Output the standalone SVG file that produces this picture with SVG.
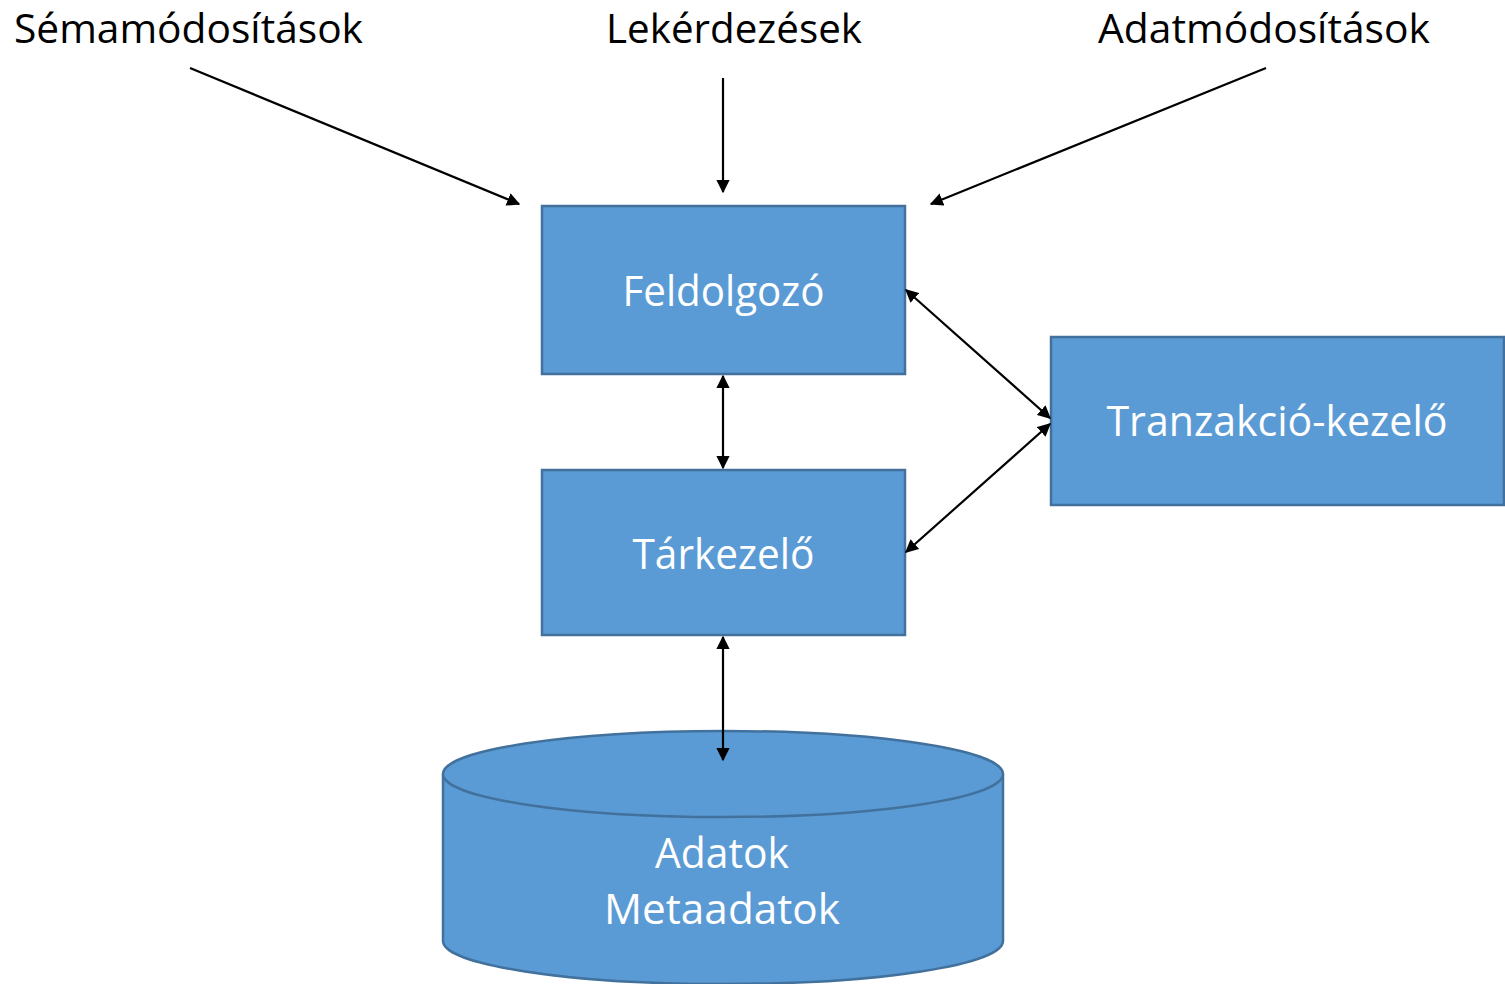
<svg xmlns="http://www.w3.org/2000/svg" width="1505" height="984" viewBox="0 0 1505 984">
<style>
.box{fill:#5B9BD5;stroke:#41719C;stroke-width:2.5}
.lbl{font-family:"Open Sans","Liberation Sans",sans-serif;font-size:41px;fill:#000}
.wl{font-family:"Open Sans","Liberation Sans",sans-serif;font-size:42px;fill:#fff;text-anchor:middle}
.c{stroke:#000;stroke-width:2.2;fill:none}
</style>
<defs>
<marker id="ah" viewBox="0 0 10 10" refX="9" refY="5" markerWidth="6" markerHeight="6" orient="auto-start-reverse" markerUnits="strokeWidth">
<path d="M0,0 L10,5 L0,10 z" fill="#000"/>
</marker>
</defs>
<rect width="1505" height="984" fill="#fff"/>
<g id="labels">
<text class="lbl" x="14" y="43" textLength="349" lengthAdjust="spacingAndGlyphs">Sémamódosítások</text>
<text class="lbl" x="606" y="43" textLength="256" lengthAdjust="spacingAndGlyphs">Lekérdezések</text>
<text class="lbl" x="1098" y="43" textLength="332" lengthAdjust="spacingAndGlyphs">Adatmódosítások</text>
</g>
<g id="feldolgozo">
<rect class="box" x="542" y="206" width="363" height="168"/>
<text class="wl" x="723.5" y="306" textLength="202" lengthAdjust="spacingAndGlyphs">Feldolgozó</text>
</g>
<g id="tarkezelo">
<rect class="box" x="542" y="470" width="363" height="165"/>
<text class="wl" x="723.5" y="569" textLength="182" lengthAdjust="spacingAndGlyphs">Tárkezelő</text>
</g>
<g id="tranzakcio">
<rect class="box" x="1051" y="337" width="453" height="168"/>
<text class="wl" x="1277" y="436" textLength="341" lengthAdjust="spacingAndGlyphs">Tranzakció-kezelő</text>
</g>
<g id="adatok">
<path class="box" d="M443,774 L443,941 A280,43 0 0 0 1003,941 L1003,774"/>
<ellipse class="box" cx="723" cy="774" rx="280" ry="43"/>
<text class="wl" x="722" y="868" textLength="134" lengthAdjust="spacingAndGlyphs">Adatok</text>
<text class="wl" x="722" y="924" textLength="236" lengthAdjust="spacingAndGlyphs">Metaadatok</text>
</g>
<g id="connectors">
<line class="c" x1="190" y1="68" x2="519" y2="204" marker-end="url(#ah)"/>
<line class="c" x1="723" y1="78" x2="723" y2="192" marker-end="url(#ah)"/>
<line class="c" x1="1266" y1="68" x2="931" y2="204" marker-end="url(#ah)"/>
<line class="c" x1="723" y1="376" x2="723" y2="468" marker-start="url(#ah)" marker-end="url(#ah)"/>
<line class="c" x1="906" y1="290" x2="1050" y2="418" marker-start="url(#ah)" marker-end="url(#ah)"/>
<line class="c" x1="906" y1="552" x2="1050" y2="424" marker-start="url(#ah)" marker-end="url(#ah)"/>
<line class="c" x1="723" y1="637" x2="723" y2="760" marker-start="url(#ah)" marker-end="url(#ah)"/>
</g>
</svg>
